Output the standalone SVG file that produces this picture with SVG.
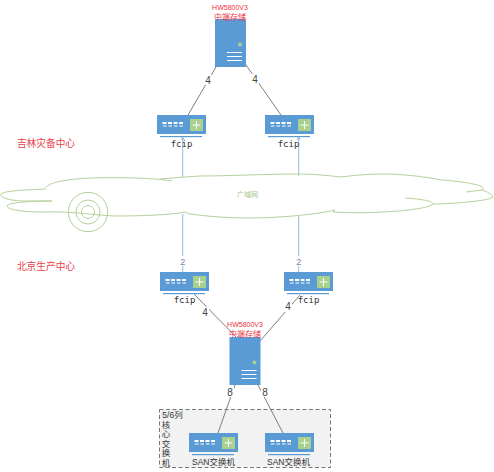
<svg xmlns="http://www.w3.org/2000/svg" width="494" height="472" viewBox="0 0 494 472">
<style>
text{font-family:"Liberation Sans","Noto Sans CJK SC",sans-serif;text-anchor:middle;fill:#333}
.t{font-size:8.500px}
.m{font-family:"DejaVu Sans Mono","Noto Sans CJK SC",monospace;font-size:9px}
.r{font-size:8px;fill:#f03040}
.h{font-size:7px;fill:#f03040}
.c{font-size:9.700px;fill:#e8404a}
.n{font-size:10px;fill:#444}
.b{font-size:9px;fill:#6f86a8}
.l{stroke:#707070;stroke-width:.9;fill:none}
.w{stroke:#9dc3e6;stroke-width:1.1;fill:none}
.k{stroke:#b5d19c;stroke-width:1;fill:none}
</style>
<defs>
<g id="sw">
<rect x="0" y="0" width="49" height="19" fill="#5b9bd5"/>
<rect x="3" y="21" width="42" height="1.200" fill="#5b9bd5"/>
<rect x="33" y="4" width="13" height="12" fill="#a9d18e"/>
<path d="M35.500 10h8M39.500 6v8" stroke="#fff" stroke-width="1"/>
<path d="M5.500 8h21" stroke="#fff" stroke-width="2" stroke-dasharray="4 1.500"/>
<path d="M6 11h20" stroke="#fff" stroke-width="1.200" stroke-dasharray="3.500 2"/>
</g>
<g id="srv">
<rect x="0" y="0" width="31" height="48" fill="#5b9bd5"/>
<circle cx="25" cy="25.500" r="2" fill="#a9d18e"/>
<path d="M12 33.500h15M12 37.500h15M12 41.500h15" stroke="#fff" stroke-width="1"/>
</g>
</defs>
<g id="backup-box">
<rect x="159.500" y="409.500" width="171" height="58" fill="#f2f2f2" stroke="#777" stroke-width="1" stroke-dasharray="4 2.500"/>
<text class="t" x="172.500" y="417.500">5/6列</text>
<text class="t" x="166" y="427.500">核</text>
<text class="t" x="166" y="437">心</text>
<text class="t" x="166" y="446.500">交</text>
<text class="t" x="166" y="456">换</text>
<text class="t" x="166" y="466">机</text>
</g>
<g id="connectors">
<path class="w" d="M182.700 138V177M298.700 138V176M182.700 214V272M298.700 216V272"/>
<path d="M182.700 136l-2 3.500h4zM298.700 136l-2 3.500h4z" fill="#9dc3e6"/>
<path class="l" d="M216 67L188 115M246 65L281 115M193 293L239 340M260 341L300 295M235 385L218 433M258 385L283 433"/>
<g id="connector-labels">
<rect x="179" y="256" width="8" height="10" fill="#fff"/><rect x="295" y="256" width="8" height="10" fill="#fff"/>
<rect x="204" y="75" width="8" height="10" fill="#fff"/><rect x="251" y="74" width="8" height="10" fill="#fff"/>
<rect x="201" y="307" width="8" height="10" fill="#fff"/><rect x="284" y="302" width="8" height="10" fill="#fff"/>
<rect x="226" y="387" width="8" height="10" fill="#fff"/><rect x="261" y="387" width="8" height="10" fill="#fff"/>
<text class="b" x="182.700" y="264.500">2</text><text class="b" x="298.700" y="264.500">2</text>
<text class="n" x="208" y="84">4</text><text class="n" x="255" y="83">4</text>
<text class="n" x="205" y="316">4</text><text class="n" x="288" y="310">4</text>
<text class="n" x="230" y="396">8</text><text class="n" x="265" y="396">8</text>
</g>
</g>
<g id="wan-cloud">
<path class="k" d="M172 181C150 177 85 176 62 181C52 183 47 185 45 189C30 190 6 190 1 194C-1 198 12 201 25 201L52 201C35 201 8 202 7 206C8 211 30 212 43 212C75 211 100 216 117 216C140 216 170 215 185 212L190 214C205 216 225 218 250 218C280 218 320 214 335 210L333 212C350 213 370 213 383 212C405 211 430 208 433 204C434 201 420 199 405 198M433 204C450 204 490 201 493 197C491 193 485 191 482 190L466 192M482 190C487 187 478 183 442 180C420 176 400 174 383 174C365 174 350 176 340 177C325 175 310 174 298 174C265 174 230 176 200 176C185 177 170 178 160 179"/>
<circle class="k" cx="88" cy="212" r="19.700"/><circle class="k" cx="88" cy="212" r="12"/><circle class="k" cx="88" cy="212" r="6.500"/>
<text x="247.500" y="197" style="font-size:7px;fill:#a3c48a">广域网</text>
</g>
<g id="label-jilin"><text class="c" x="46" y="147">吉林灾备中心</text></g>
<g id="label-beijing"><text class="c" x="46" y="270">北京生产中心</text></g>
<g id="storage-top"><use href="#srv" x="215" y="19"/><text class="h" x="230" y="9.500">HW5800V3</text><text class="r" x="230" y="20">中端存储</text></g>
<g id="storage-bottom"><use href="#srv" x="229.500" y="337"/><text class="h" x="245" y="326.500">HW5800V3</text><text class="r" x="245" y="337">中端存储</text></g>
<g id="fcip-1"><use href="#sw" x="157" y="115"/><text class="m" x="181.500" y="147">fcip</text></g>
<g id="fcip-2"><use href="#sw" x="265" y="115"/><text class="m" x="288.500" y="147">fcip</text></g>
<g id="fcip-3"><use href="#sw" x="160" y="272"/><text class="m" x="184.500" y="303">fcip</text></g>
<g id="fcip-4"><use href="#sw" x="284" y="272"/><text class="m" x="308.500" y="303">fcip</text></g>
<g id="san-1"><use href="#sw" x="189" y="433"/><text class="t" x="213.500" y="464.500">SAN交换机</text></g>
<g id="san-2"><use href="#sw" x="265" y="433"/><text class="t" x="288.500" y="464.500">SAN交换机</text></g>
</svg>
